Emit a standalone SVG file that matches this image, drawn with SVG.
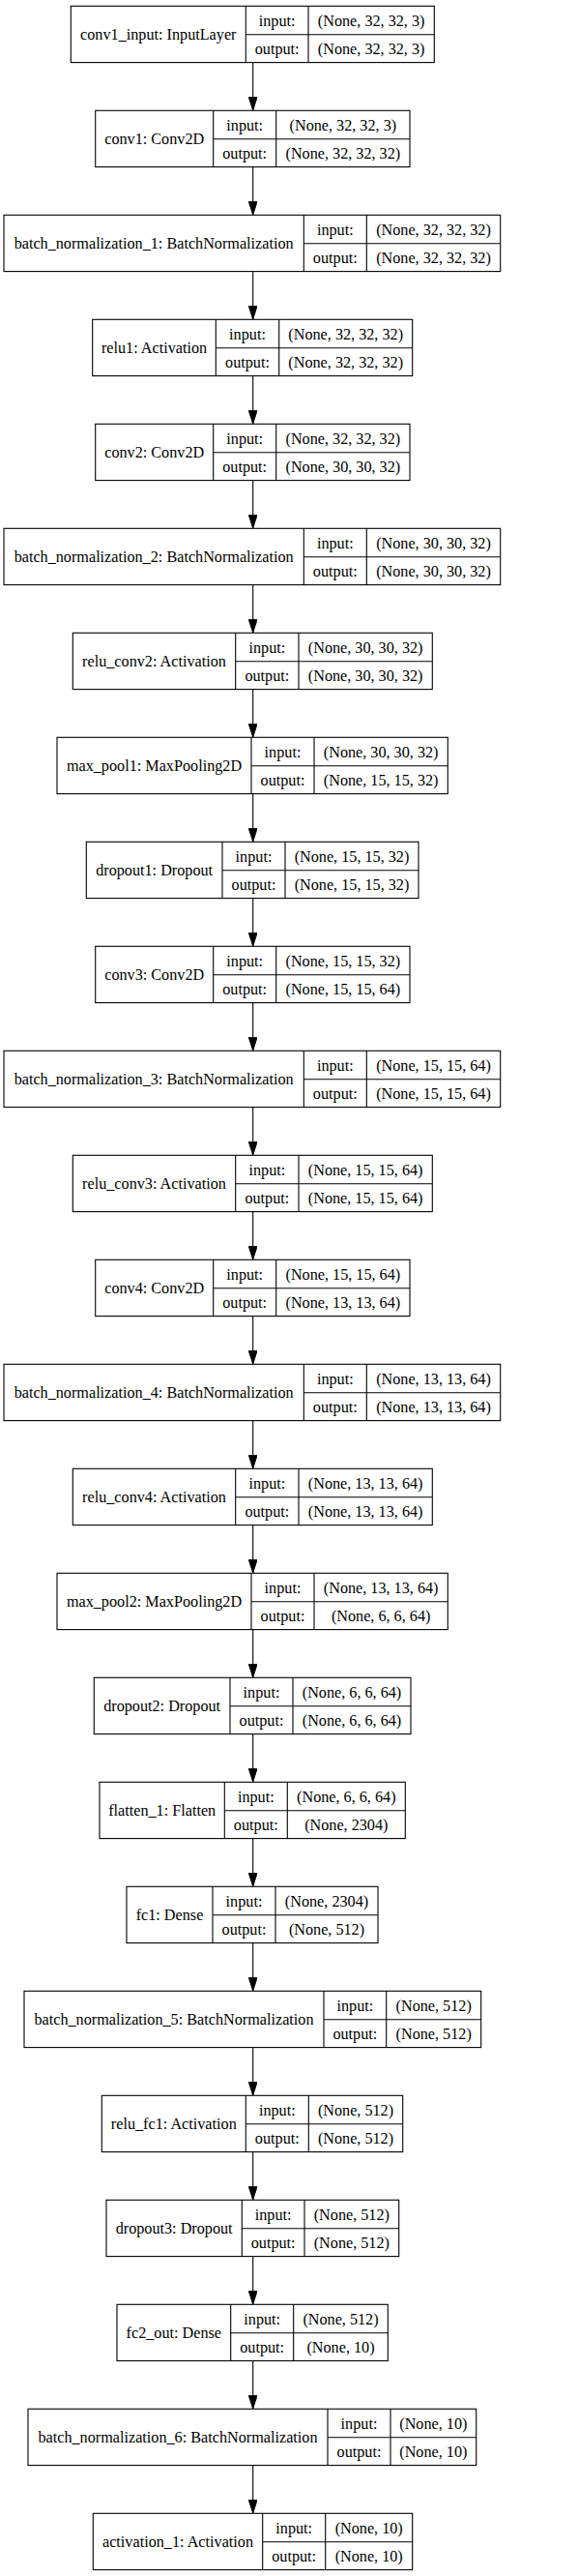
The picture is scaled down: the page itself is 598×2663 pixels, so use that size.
<svg xmlns="http://www.w3.org/2000/svg" width="598" height="2663" viewBox="0 0 598 2663">
<style>
rect{fill:#fff;stroke:#000;stroke-width:1.1}
.nd line{stroke:#000;stroke-width:1.1}
text{font-family:"Liberation Serif","Times New Roman",serif;font-size:16.2px;fill:#000;text-anchor:middle}
.e path{stroke:#000;stroke-width:1.1;fill:none;marker-end:url(#ah)}
</style>
<defs>
<marker id="ah" viewBox="0 0 14 9" refX="14" refY="4.5" markerWidth="14" markerHeight="9" markerUnits="userSpaceOnUse" orient="auto"><path d="M0,0 L14,4.5 L0,9 z" fill="#000" stroke="#000" stroke-width="0.8"/></marker>
</defs>
<rect x="0" y="0" width="598" height="2663" style="stroke:none;fill:#fff"/>
<g id="edges" class="e">
<path d="M261.7 64.6 V114.3"/>
<path d="M261.7 172.6 V222.3"/>
<path d="M261.7 280.6 V330.3"/>
<path d="M261.7 388.6 V438.3"/>
<path d="M261.7 496.6 V546.3"/>
<path d="M261.7 604.6 V654.3"/>
<path d="M261.7 712.6 V762.3"/>
<path d="M261.7 820.6 V870.3"/>
<path d="M261.7 928.6 V978.3"/>
<path d="M261.7 1036.6 V1086.3"/>
<path d="M261.7 1144.6 V1194.3"/>
<path d="M261.7 1252.6 V1302.3"/>
<path d="M261.7 1360.6 V1410.3"/>
<path d="M261.7 1468.6 V1518.3"/>
<path d="M261.7 1576.6 V1626.3"/>
<path d="M261.7 1684.6 V1734.3"/>
<path d="M261.7 1792.6 V1842.3"/>
<path d="M261.7 1900.6 V1950.3"/>
<path d="M261.7 2008.6 V2058.3"/>
<path d="M261.7 2116.6 V2166.3"/>
<path d="M261.7 2224.6 V2274.3"/>
<path d="M261.7 2332.6 V2382.3"/>
<path d="M261.7 2440.6 V2490.3"/>
<path d="M261.7 2548.6 V2598.3"/>
</g>
<g id="n0" class="nd" transform="translate(0,6.3)"><rect x="73.3" y="0" width="376" height="58.3"/><line x1="254.3" y1="0" x2="254.3" y2="58.3"/><line x1="319" y1="0" x2="319" y2="58.3"/><line x1="254.3" y1="29.5" x2="449.3" y2="29.5"/><text x="163.8" y="35">conv1_input: InputLayer</text><text x="286.65" y="20.5">input:</text><text x="286.65" y="50">output:</text><text x="384.15" y="20.5">(None, 32, 32, 3)</text><text x="384.15" y="50">(None, 32, 32, 3)</text></g>
<g id="n1" class="nd" transform="translate(0,114.3)"><rect x="98.7" y="0" width="325.3" height="58.3"/><line x1="220.7" y1="0" x2="220.7" y2="58.3"/><line x1="285.7" y1="0" x2="285.7" y2="58.3"/><line x1="220.7" y1="29.5" x2="424" y2="29.5"/><text x="159.7" y="35">conv1: Conv2D</text><text x="253.2" y="20.5">input:</text><text x="253.2" y="50">output:</text><text x="354.85" y="20.5">(None, 32, 32, 3)</text><text x="354.85" y="50">(None, 32, 32, 32)</text></g>
<g id="n2" class="nd" transform="translate(0,222.3)"><rect x="4" y="0" width="513.7" height="58.3"/><line x1="314.3" y1="0" x2="314.3" y2="58.3"/><line x1="379.3" y1="0" x2="379.3" y2="58.3"/><line x1="314.3" y1="29.5" x2="517.7" y2="29.5"/><text x="159.15" y="35">batch_normalization_1: BatchNormalization</text><text x="346.8" y="20.5">input:</text><text x="346.8" y="50">output:</text><text x="448.5" y="20.5">(None, 32, 32, 32)</text><text x="448.5" y="50">(None, 32, 32, 32)</text></g>
<g id="n3" class="nd" transform="translate(0,330.3)"><rect x="95.7" y="0" width="331" height="58.3"/><line x1="223.3" y1="0" x2="223.3" y2="58.3"/><line x1="288.7" y1="0" x2="288.7" y2="58.3"/><line x1="223.3" y1="29.5" x2="426.7" y2="29.5"/><text x="159.5" y="35">relu1: Activation</text><text x="256" y="20.5">input:</text><text x="256" y="50">output:</text><text x="357.7" y="20.5">(None, 32, 32, 32)</text><text x="357.7" y="50">(None, 32, 32, 32)</text></g>
<g id="n4" class="nd" transform="translate(0,438.3)"><rect x="98.7" y="0" width="325.3" height="58.3"/><line x1="220.7" y1="0" x2="220.7" y2="58.3"/><line x1="285.7" y1="0" x2="285.7" y2="58.3"/><line x1="220.7" y1="29.5" x2="424" y2="29.5"/><text x="159.7" y="35">conv2: Conv2D</text><text x="253.2" y="20.5">input:</text><text x="253.2" y="50">output:</text><text x="354.85" y="20.5">(None, 32, 32, 32)</text><text x="354.85" y="50">(None, 30, 30, 32)</text></g>
<g id="n5" class="nd" transform="translate(0,546.3)"><rect x="4" y="0" width="513.7" height="58.3"/><line x1="314.3" y1="0" x2="314.3" y2="58.3"/><line x1="379.3" y1="0" x2="379.3" y2="58.3"/><line x1="314.3" y1="29.5" x2="517.7" y2="29.5"/><text x="159.15" y="35">batch_normalization_2: BatchNormalization</text><text x="346.8" y="20.5">input:</text><text x="346.8" y="50">output:</text><text x="448.5" y="20.5">(None, 30, 30, 32)</text><text x="448.5" y="50">(None, 30, 30, 32)</text></g>
<g id="n6" class="nd" transform="translate(0,654.3)"><rect x="75.3" y="0" width="372" height="58.3"/><line x1="243.7" y1="0" x2="243.7" y2="58.3"/><line x1="309" y1="0" x2="309" y2="58.3"/><line x1="243.7" y1="29.5" x2="447.3" y2="29.5"/><text x="159.5" y="35">relu_conv2: Activation</text><text x="276.35" y="20.5">input:</text><text x="276.35" y="50">output:</text><text x="378.15" y="20.5">(None, 30, 30, 32)</text><text x="378.15" y="50">(None, 30, 30, 32)</text></g>
<g id="n7" class="nd" transform="translate(0,762.3)"><rect x="59" y="0" width="404.3" height="58.3"/><line x1="260" y1="0" x2="260" y2="58.3"/><line x1="325" y1="0" x2="325" y2="58.3"/><line x1="260" y1="29.5" x2="463.3" y2="29.5"/><text x="159.5" y="35">max_pool1: MaxPooling2D</text><text x="292.5" y="20.5">input:</text><text x="292.5" y="50">output:</text><text x="394.15" y="20.5">(None, 30, 30, 32)</text><text x="394.15" y="50">(None, 15, 15, 32)</text></g>
<g id="n8" class="nd" transform="translate(0,870.3)"><rect x="89.3" y="0" width="343.7" height="58.3"/><line x1="230" y1="0" x2="230" y2="58.3"/><line x1="295" y1="0" x2="295" y2="58.3"/><line x1="230" y1="29.5" x2="433" y2="29.5"/><text x="159.65" y="35">dropout1: Dropout</text><text x="262.5" y="20.5">input:</text><text x="262.5" y="50">output:</text><text x="364" y="20.5">(None, 15, 15, 32)</text><text x="364" y="50">(None, 15, 15, 32)</text></g>
<g id="n9" class="nd" transform="translate(0,978.3)"><rect x="98.7" y="0" width="325.3" height="58.3"/><line x1="220.7" y1="0" x2="220.7" y2="58.3"/><line x1="285.7" y1="0" x2="285.7" y2="58.3"/><line x1="220.7" y1="29.5" x2="424" y2="29.5"/><text x="159.7" y="35">conv3: Conv2D</text><text x="253.2" y="20.5">input:</text><text x="253.2" y="50">output:</text><text x="354.85" y="20.5">(None, 15, 15, 32)</text><text x="354.85" y="50">(None, 15, 15, 64)</text></g>
<g id="n10" class="nd" transform="translate(0,1086.3)"><rect x="4" y="0" width="513.7" height="58.3"/><line x1="314.3" y1="0" x2="314.3" y2="58.3"/><line x1="379.3" y1="0" x2="379.3" y2="58.3"/><line x1="314.3" y1="29.5" x2="517.7" y2="29.5"/><text x="159.15" y="35">batch_normalization_3: BatchNormalization</text><text x="346.8" y="20.5">input:</text><text x="346.8" y="50">output:</text><text x="448.5" y="20.5">(None, 15, 15, 64)</text><text x="448.5" y="50">(None, 15, 15, 64)</text></g>
<g id="n11" class="nd" transform="translate(0,1194.3)"><rect x="75.3" y="0" width="372" height="58.3"/><line x1="243.7" y1="0" x2="243.7" y2="58.3"/><line x1="309" y1="0" x2="309" y2="58.3"/><line x1="243.7" y1="29.5" x2="447.3" y2="29.5"/><text x="159.5" y="35">relu_conv3: Activation</text><text x="276.35" y="20.5">input:</text><text x="276.35" y="50">output:</text><text x="378.15" y="20.5">(None, 15, 15, 64)</text><text x="378.15" y="50">(None, 15, 15, 64)</text></g>
<g id="n12" class="nd" transform="translate(0,1302.3)"><rect x="98.7" y="0" width="325.3" height="58.3"/><line x1="220.7" y1="0" x2="220.7" y2="58.3"/><line x1="285.7" y1="0" x2="285.7" y2="58.3"/><line x1="220.7" y1="29.5" x2="424" y2="29.5"/><text x="159.7" y="35">conv4: Conv2D</text><text x="253.2" y="20.5">input:</text><text x="253.2" y="50">output:</text><text x="354.85" y="20.5">(None, 15, 15, 64)</text><text x="354.85" y="50">(None, 13, 13, 64)</text></g>
<g id="n13" class="nd" transform="translate(0,1410.3)"><rect x="4" y="0" width="513.7" height="58.3"/><line x1="314.3" y1="0" x2="314.3" y2="58.3"/><line x1="379.3" y1="0" x2="379.3" y2="58.3"/><line x1="314.3" y1="29.5" x2="517.7" y2="29.5"/><text x="159.15" y="35">batch_normalization_4: BatchNormalization</text><text x="346.8" y="20.5">input:</text><text x="346.8" y="50">output:</text><text x="448.5" y="20.5">(None, 13, 13, 64)</text><text x="448.5" y="50">(None, 13, 13, 64)</text></g>
<g id="n14" class="nd" transform="translate(0,1518.3)"><rect x="75.3" y="0" width="372" height="58.3"/><line x1="243.7" y1="0" x2="243.7" y2="58.3"/><line x1="309" y1="0" x2="309" y2="58.3"/><line x1="243.7" y1="29.5" x2="447.3" y2="29.5"/><text x="159.5" y="35">relu_conv4: Activation</text><text x="276.35" y="20.5">input:</text><text x="276.35" y="50">output:</text><text x="378.15" y="20.5">(None, 13, 13, 64)</text><text x="378.15" y="50">(None, 13, 13, 64)</text></g>
<g id="n15" class="nd" transform="translate(0,1626.3)"><rect x="59" y="0" width="404.3" height="58.3"/><line x1="260" y1="0" x2="260" y2="58.3"/><line x1="325" y1="0" x2="325" y2="58.3"/><line x1="260" y1="29.5" x2="463.3" y2="29.5"/><text x="159.5" y="35">max_pool2: MaxPooling2D</text><text x="292.5" y="20.5">input:</text><text x="292.5" y="50">output:</text><text x="394.15" y="20.5">(None, 13, 13, 64)</text><text x="394.15" y="50">(None, 6, 6, 64)</text></g>
<g id="n16" class="nd" transform="translate(0,1734.3)"><rect x="97.3" y="0" width="327.7" height="58.3"/><line x1="238" y1="0" x2="238" y2="58.3"/><line x1="303" y1="0" x2="303" y2="58.3"/><line x1="238" y1="29.5" x2="425" y2="29.5"/><text x="167.65" y="35">dropout2: Dropout</text><text x="270.5" y="20.5">input:</text><text x="270.5" y="50">output:</text><text x="364" y="20.5">(None, 6, 6, 64)</text><text x="364" y="50">(None, 6, 6, 64)</text></g>
<g id="n17" class="nd" transform="translate(0,1842.3)"><rect x="103" y="0" width="316.3" height="58.3"/><line x1="232.3" y1="0" x2="232.3" y2="58.3"/><line x1="297.3" y1="0" x2="297.3" y2="58.3"/><line x1="232.3" y1="29.5" x2="419.3" y2="29.5"/><text x="167.65" y="35">flatten_1: Flatten</text><text x="264.8" y="20.5">input:</text><text x="264.8" y="50">output:</text><text x="358.3" y="20.5">(None, 6, 6, 64)</text><text x="358.3" y="50">(None, 2304)</text></g>
<g id="n18" class="nd" transform="translate(0,1950.3)"><rect x="131" y="0" width="260" height="58.3"/><line x1="220" y1="0" x2="220" y2="58.3"/><line x1="285" y1="0" x2="285" y2="58.3"/><line x1="220" y1="29.5" x2="391" y2="29.5"/><text x="175.5" y="35">fc1: Dense</text><text x="252.5" y="20.5">input:</text><text x="252.5" y="50">output:</text><text x="338" y="20.5">(None, 2304)</text><text x="338" y="50">(None, 512)</text></g>
<g id="n19" class="nd" transform="translate(0,2058.3)"><rect x="25" y="0" width="472.7" height="58.3"/><line x1="335" y1="0" x2="335" y2="58.3"/><line x1="399.7" y1="0" x2="399.7" y2="58.3"/><line x1="335" y1="29.5" x2="497.7" y2="29.5"/><text x="180" y="35">batch_normalization_5: BatchNormalization</text><text x="367.35" y="20.5">input:</text><text x="367.35" y="50">output:</text><text x="448.7" y="20.5">(None, 512)</text><text x="448.7" y="50">(None, 512)</text></g>
<g id="n20" class="nd" transform="translate(0,2166.3)"><rect x="105.3" y="0" width="311.4" height="58.3"/><line x1="254.3" y1="0" x2="254.3" y2="58.3"/><line x1="319.3" y1="0" x2="319.3" y2="58.3"/><line x1="254.3" y1="29.5" x2="416.7" y2="29.5"/><text x="179.8" y="35">relu_fc1: Activation</text><text x="286.8" y="20.5">input:</text><text x="286.8" y="50">output:</text><text x="368" y="20.5">(None, 512)</text><text x="368" y="50">(None, 512)</text></g>
<g id="n21" class="nd" transform="translate(0,2274.3)"><rect x="110" y="0" width="302.7" height="58.3"/><line x1="250.3" y1="0" x2="250.3" y2="58.3"/><line x1="315" y1="0" x2="315" y2="58.3"/><line x1="250.3" y1="29.5" x2="412.7" y2="29.5"/><text x="180.15" y="35">dropout3: Dropout</text><text x="282.65" y="20.5">input:</text><text x="282.65" y="50">output:</text><text x="363.85" y="20.5">(None, 512)</text><text x="363.85" y="50">(None, 512)</text></g>
<g id="n22" class="nd" transform="translate(0,2382.3)"><rect x="121" y="0" width="280.3" height="58.3"/><line x1="238.7" y1="0" x2="238.7" y2="58.3"/><line x1="303.7" y1="0" x2="303.7" y2="58.3"/><line x1="238.7" y1="29.5" x2="401.3" y2="29.5"/><text x="179.85" y="35">fc2_out: Dense</text><text x="271.2" y="20.5">input:</text><text x="271.2" y="50">output:</text><text x="352.5" y="20.5">(None, 512)</text><text x="352.5" y="50">(None, 10)</text></g>
<g id="n23" class="nd" transform="translate(0,2490.3)"><rect x="29" y="0" width="463.7" height="58.3"/><line x1="339" y1="0" x2="339" y2="58.3"/><line x1="404" y1="0" x2="404" y2="58.3"/><line x1="339" y1="29.5" x2="492.7" y2="29.5"/><text x="184" y="35">batch_normalization_6: BatchNormalization</text><text x="371.5" y="20.5">input:</text><text x="371.5" y="50">output:</text><text x="448.35" y="20.5">(None, 10)</text><text x="448.35" y="50">(None, 10)</text></g>
<g id="n24" class="nd" transform="translate(0,2598.3)"><rect x="96.3" y="0" width="330.4" height="58.3"/><line x1="271.7" y1="0" x2="271.7" y2="58.3"/><line x1="336.7" y1="0" x2="336.7" y2="58.3"/><line x1="271.7" y1="29.5" x2="426.7" y2="29.5"/><text x="184" y="35">activation_1: Activation</text><text x="304.2" y="20.5">input:</text><text x="304.2" y="50">output:</text><text x="381.7" y="20.5">(None, 10)</text><text x="381.7" y="50">(None, 10)</text></g>
</svg>
